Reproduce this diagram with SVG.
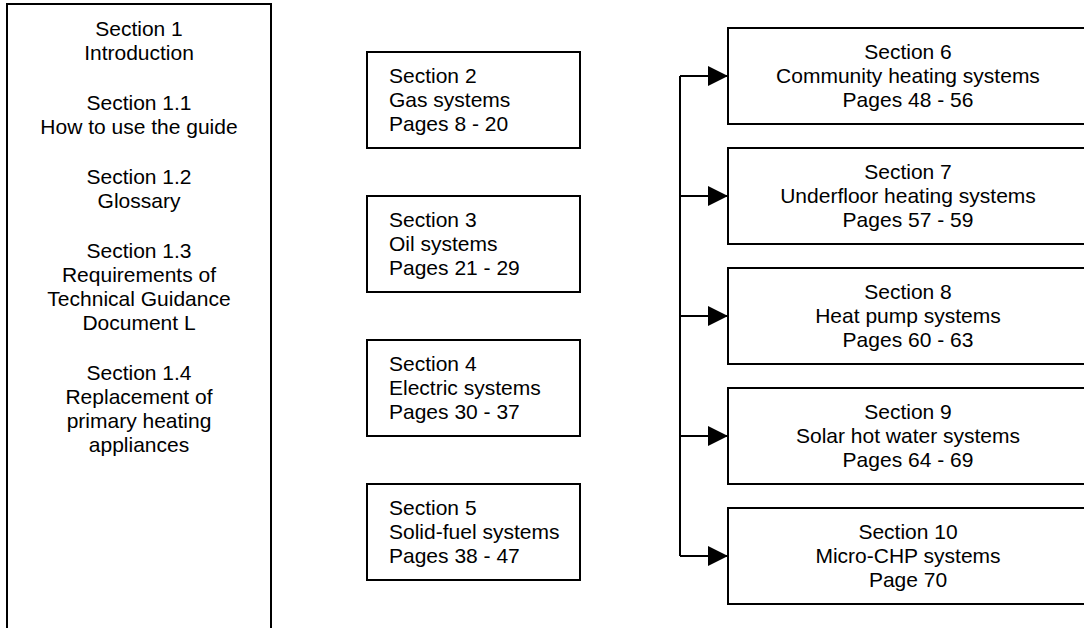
<svg xmlns="http://www.w3.org/2000/svg" width="1084" height="628" viewBox="0 0 1084 628">
<defs>
<style>
.box{fill:#fff;stroke:#000;stroke-width:2}
.t{font-family:"Liberation Sans",Arial,sans-serif;font-size:21px;fill:#000}
.c{text-anchor:middle}
.ln{fill:none;stroke:#000;stroke-width:2}
</style>
<marker id="ah" markerWidth="20" markerHeight="20" viewBox="0 0 20 20" refX="20" refY="10" orient="auto" markerUnits="userSpaceOnUse">
<path d="M0,0 L20,10 L0,20 Z" fill="#000"/>
</marker>
</defs>
<rect width="1084" height="628" fill="#fff"/>
<g id="section1">
<rect class="box" x="7" y="4" width="264" height="640"/>
<text class="t c" x="139" y="36">Section 1</text>
<text class="t c" x="139" y="60">Introduction</text>
<text class="t c" x="139" y="110">Section 1.1</text>
<text class="t c" x="139" y="134">How to use the guide</text>
<text class="t c" x="139" y="184">Section 1.2</text>
<text class="t c" x="139" y="208">Glossary</text>
<text class="t c" x="139" y="258">Section 1.3</text>
<text class="t c" x="139" y="282">Requirements of</text>
<text class="t c" x="139" y="306">Technical Guidance</text>
<text class="t c" x="139" y="330">Document L</text>
<text class="t c" x="139" y="380">Section 1.4</text>
<text class="t c" x="139" y="404">Replacement of</text>
<text class="t c" x="139" y="428">primary heating</text>
<text class="t c" x="139" y="452">appliances</text>
</g>
<g id="section2">
<rect class="box" x="367" y="52" width="213" height="96"/>
<text class="t" x="389" y="83">Section 2</text>
<text class="t" x="389" y="107">Gas systems</text>
<text class="t" x="389" y="131">Pages 8 - 20</text>
</g>
<g id="section3">
<rect class="box" x="367" y="196" width="213" height="96"/>
<text class="t" x="389" y="227">Section 3</text>
<text class="t" x="389" y="251">Oil systems</text>
<text class="t" x="389" y="275">Pages 21 - 29</text>
</g>
<g id="section4">
<rect class="box" x="367" y="340" width="213" height="96"/>
<text class="t" x="389" y="371">Section 4</text>
<text class="t" x="389" y="395">Electric systems</text>
<text class="t" x="389" y="419">Pages 30 - 37</text>
</g>
<g id="section5">
<rect class="box" x="367" y="484" width="213" height="96"/>
<text class="t" x="389" y="515">Section 5</text>
<text class="t" x="389" y="539">Solid-fuel systems</text>
<text class="t" x="389" y="563">Pages 38 - 47</text>
</g>
<g id="section6">
<rect class="box" x="728" y="28" width="360" height="96"/>
<text class="t c" x="908" y="59">Section 6</text>
<text class="t c" x="908" y="83">Community heating systems</text>
<text class="t c" x="908" y="107">Pages 48 - 56</text>
</g>
<g id="section7">
<rect class="box" x="728" y="148" width="360" height="96"/>
<text class="t c" x="908" y="179">Section 7</text>
<text class="t c" x="908" y="203">Underfloor heating systems</text>
<text class="t c" x="908" y="227">Pages 57 - 59</text>
</g>
<g id="section8">
<rect class="box" x="728" y="268" width="360" height="96"/>
<text class="t c" x="908" y="299">Section 8</text>
<text class="t c" x="908" y="323">Heat pump systems</text>
<text class="t c" x="908" y="347">Pages 60 - 63</text>
</g>
<g id="section9">
<rect class="box" x="728" y="388" width="360" height="96"/>
<text class="t c" x="908" y="419">Section 9</text>
<text class="t c" x="908" y="443">Solar hot water systems</text>
<text class="t c" x="908" y="467">Pages 64 - 69</text>
</g>
<g id="section10">
<rect class="box" x="728" y="508" width="360" height="96"/>
<text class="t c" x="908" y="539">Section 10</text>
<text class="t c" x="908" y="563">Micro-CHP systems</text>
<text class="t c" x="908" y="587">Page 70</text>
</g>
<g id="connectors">
<line class="ln" x1="680" y1="76" x2="680" y2="556"/>
<line class="ln" x1="680" y1="76" x2="728" y2="76" marker-end="url(#ah)"/>
<line class="ln" x1="680" y1="196" x2="728" y2="196" marker-end="url(#ah)"/>
<line class="ln" x1="680" y1="316" x2="728" y2="316" marker-end="url(#ah)"/>
<line class="ln" x1="680" y1="436" x2="728" y2="436" marker-end="url(#ah)"/>
<line class="ln" x1="680" y1="556" x2="728" y2="556" marker-end="url(#ah)"/>
</g>
</svg>
